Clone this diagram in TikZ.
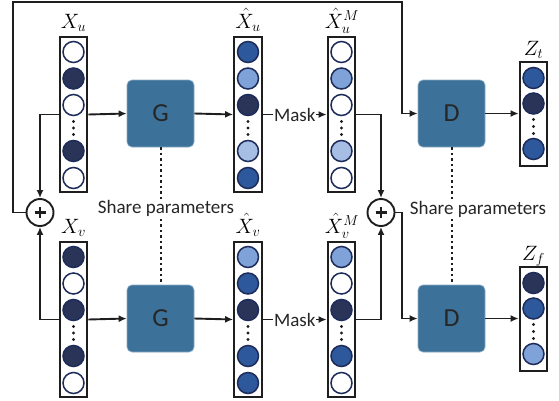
\documentclass[tikz,border=0pt]{standalone}
\usepackage{fontspec}
\setsansfont{Carlito}
\usetikzlibrary{arrows.meta}

\definecolor{cdark}{HTML}{2A3459}
\definecolor{cmid}{HTML}{2D589B}
\definecolor{clight}{HTML}{7FA2D8}
\definecolor{cpale}{HTML}{A7BEE4}
\definecolor{cnavy}{HTML}{1E2C5A}
\definecolor{cbox}{HTML}{3C729A}
\definecolor{cline}{HTML}{1E1E1E}

% column of five units with a gap of dots: name, x, top, five fill colours
\newcommand{\fivecol}[8]{%
  \node[colbox, minimum height=155pt] (#1) at (#2, #3+78.5) {};
  \foreach \dy/\c [count=\i] in {16/#4, 42.5/#5, 69/#6, 115/#7, 142/#8}
    \node[unit, fill=\c] (#1-\i) at (#2, #3+\dy) {};
  \foreach \dy in {85.5, 92, 98.5}
    \fill[cline] (#2, #3+\dy) circle (1.7pt);
}
% column of three units with a gap of dots: name, x, top, three fill colours
\newcommand{\threecol}[6]{%
  \node[colbox, minimum height=104pt] (#1) at (#2, #3+53) {};
  \foreach \dy/\c [count=\i] in {17/#4, 42.5/#5, 88/#6}
    \node[unit, fill=\c] (#1-\i) at (#2, #3+\dy) {};
  \foreach \dy in {58.5, 65.5, 72.5}
    \fill[cline] (#2, #3+\dy) circle (1.7pt);
}

\begin{document}
\begin{tikzpicture}[x=1pt, y=-1pt,
  colbox/.style={draw=cline, line width=2.2pt, fill=white, minimum width=27.5pt, inner sep=0pt},
  unit/.style={circle, draw=cnavy, line width=1.5pt, minimum size=21pt, inner sep=0pt},
  netbox/.style={rounded corners=5pt, fill=cbox, draw=cbox!60!white, line width=0.7pt,
    minimum size=67pt, inner sep=0pt, text=black!85,
    font=\sffamily\fontsize{26}{26}\selectfont},
  link/.style={line width=1.9pt, draw=cline, -{Latex[length=8pt,width=7pt]}},
  shared/.style={line width=2pt, draw=cline, dash pattern=on 2.5pt off 3pt},
  sum/.style={circle, draw=cline, line width=1.9pt, fill=white, minimum size=27pt, inner sep=0pt},
  lbl/.style={anchor=base, inner sep=0pt, font=\fontsize{22}{22}\selectfont},
  txt/.style={fill=white, inner sep=1pt, font=\sffamily\fontsize{19}{19}\selectfont, text=black!85}]
\useasboundingbox (0,0) rectangle (559,400);

% upper branch
\fivecol{Xu}{73.5}{36}{white}{cdark}{white}{cdark}{white}
\fivecol{Xhu}{248}{36}{cmid}{clight}{cdark}{cpale}{cmid}
\fivecol{XhuM}{341.5}{36}{white}{clight}{white}{cpale}{white}
\threecol{Zt}{533.5}{61}{cmid}{cdark}{cmid}

% lower branch
\fivecol{Xv}{73.5}{241}{cdark}{white}{cdark}{cdark}{white}
\fivecol{Xhv}{248}{241}{clight}{cmid}{cdark}{cmid}{cmid}
\fivecol{XhvM}{341.5}{241}{clight}{white}{cdark}{cmid}{white}
\threecol{Zf}{533.5}{266}{cdark}{cmid}{clight}

% labels
\node[lbl] (lXu)   at (73.5, 28)  {$X_u$};
\node[lbl] (lXhu)  at (248, 28)   {$\hat{X}_u$};
\node[lbl] (lXhuM) at (342, 28)   {$\hat{X}_u^M$};
\node[lbl] (lZt)   at (533.5, 55) {$Z_t$};
\node[lbl] (lXv)   at (73.5, 233) {$X_v$};
\node[lbl] (lXhv)  at (248, 233)  {$\hat{X}_v$};
\node[lbl] (lXhvM) at (342, 233)  {$\hat{X}_v^M$};
\node[lbl] (lZf)   at (533.5, 260) {$Z_f$};

% generator and discriminator blocks
\node[netbox] (G1) at (160.5, 113.5) {G};
\node[netbox] (D1) at (451.5, 113.5) {D};
\node[netbox] (G2) at (160.5, 318.5) {G};
\node[netbox] (D2) at (451.5, 318.5) {D};

% summation nodes, each with a bold plus sign
\node[sum] (PL) at (40, 212.5) {};
\node[sum] (PR) at (381, 212.5) {};
\foreach \p in {PL, PR}
  \draw[line width=2.6pt, cline] ([xshift=-5.5pt]\p.center) -- ([xshift=5.5pt]\p.center)
                                 ([yshift=-5.5pt]\p.center) -- ([yshift=5.5pt]\p.center);

% shared weights
\draw[shared] (G1.south) -- (G2.north);
\draw[shared] (D1.south) -- (D2.north);
\node[txt] (shG) at (166, 208) {Share parameters};
\node[txt] (shD) at (478, 209) {Share parameters};

% forward connections
\draw[link] (Xu.east) -- (G1.west);
\draw[link] (G1.east) -- (Xhu.west);
\draw[link] (Xhu.east) -- node[txt] (mask1) {Mask} (XhuM.west);
\draw[link] (D1.east) -- (D1.east -| Zt.west);
\draw[link] (Xv.east) -- (G2.west);
\draw[link] (G2.east) -- (Xhv.west);
\draw[link] (Xhv.east) -- node[txt] (mask2) {Mask} (XhvM.west);
\draw[link] (D2.east) -- (D2.east -| Zf.west);

% inputs into the summation nodes
\draw[link] (Xu.west) -- (Xu.west -| PL) -- (PL.north);
\draw[link] (Xv.west) -- (Xv.west -| PL) -- (PL.south);
\draw[link] (XhuM.east) -- (XhuM.east -| PR) -- (PR.north);
\draw[link] (XhvM.east) -- (XhvM.east -| PR) -- (PR.south);

% summed inputs to the discriminators
\coordinate (frameL) at (13, 2);
\coordinate (frameR) at (402, 2);
\draw[link] (PL.west) -| (frameL) -- (frameR) |- (D1.west);
\draw[link] (PR.east) -- (PR.east -| frameR) |- (D2.west);
\end{tikzpicture}
\end{document}
